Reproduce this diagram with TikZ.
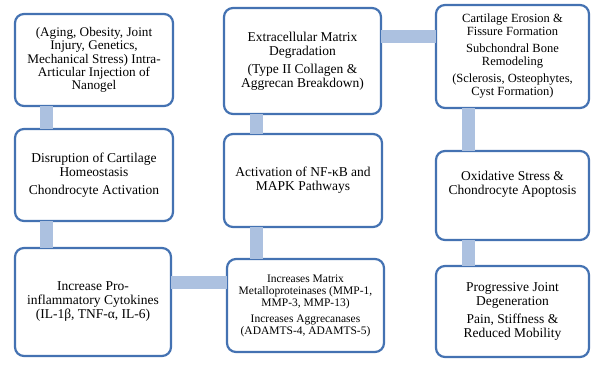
\documentclass[tikz,border=0pt]{standalone}
\usepackage{fontspec}
\setmainfont{Liberation Serif}
\usetikzlibrary{positioning}

\definecolor{boxline}{RGB}{68,114,178}
\definecolor{barfill}{RGB}{172,193,224}

\begin{document}
\begin{tikzpicture}[
    x=1pt, y=-1pt,
    stagebox/.style={draw=boxline, line width=2.2pt, fill=white, rounded corners=9pt,
        align=center, inner sep=2pt, outer sep=0pt,
        font=\fontsize{13.5}{14}\selectfont},
    linkbar/.style={draw=barfill, line width=13pt, line cap=butt}
    ]
    \useasboundingbox (0,0) rectangle (591,365);

    %Bar positions
    \coordinate (c1bar) at (46,0);
    \coordinate (c2bar) at (256,0);
    \coordinate (c3bar) at (468,0);
    \coordinate (lowbar) at (0,282);
    \coordinate (topbar) at (0,36);

    %Boxes
    \node[stagebox, minimum width=158pt, minimum height=92pt, font=\fontsize{13.2}{13.2}\selectfont] (c1b1) at (94,60)
        {(Aging, Obesity, Joint\\Injury, Genetics,\\Mechanical Stress) Intra-\\Articular Injection of\\Nanogel};
    \node[stagebox, minimum width=158pt, minimum height=92pt] (c1b2) at (94,175)
        {Disruption of Cartilage\\Homeostasis\\[4pt]Chondrocyte Activation};
    \node[stagebox, minimum width=156pt, minimum height=108pt] (c1b3) at (93,302)
        {Increase Pro-\\inflammatory Cytokines\\(IL-1β, TNF-α, IL-6)};

    \node[stagebox, minimum width=157pt, minimum height=106pt] (c2b1) at (302.5,61)
        {Extracellular Matrix\\Degradation\\[4pt](Type II Collagen \&\\Aggrecan Breakdown)};
    \node[stagebox, minimum width=158pt, minimum height=93pt] (c2b2) at (303,180.5)
        {Activation of NF-κB and\\MAPK Pathways};
    \node[stagebox, minimum width=157pt, minimum height=93pt, font=\fontsize{11.5}{12}\selectfont] (c2b3) at (305.5,305.5)
        {Increases Matrix\\Metalloproteinases (MMP-1,\\MMP-3, MMP-13)\\[4pt]Increases Aggrecanases\\(ADAMTS-4, ADAMTS-5)};

    \node[stagebox, minimum width=153pt, minimum height=103pt, font=\fontsize{12.5}{13}\selectfont] (c3b1) at (512.5,56.5)
        {Cartilage Erosion \&\\Fissure Formation\\[4pt]Subchondral Bone\\Remodeling\\[4pt](Sclerosis, Osteophytes,\\Cyst Formation)};
    \node[stagebox, minimum width=153pt, minimum height=89pt] (c3b2) at (512.5,195.5)
        {Oxidative Stress \&\\Chondrocyte Apoptosis\\[12pt]\mbox{}};
    \node[stagebox, minimum width=153pt, minimum height=91pt] (c3b3) at (512.5,311.5)
        {Progressive Joint\\Degeneration\\[4pt]Pain, Stiffness \&\\Reduced Mobility};

    %Bars
    \draw[linkbar] (c1bar |- c1b1.south) -- (c1bar |- c1b2.north);
    \draw[linkbar] (c1bar |- c1b2.south) -- (c1bar |- c1b3.north);
    \draw[linkbar] (c1b3.east |- lowbar) -- (c2b3.west |- lowbar);
    \draw[linkbar] (c2bar |- c2b3.north) -- (c2bar |- c2b2.south);
    \draw[linkbar] (c2bar |- c2b2.north) -- (c2bar |- c2b1.south);
    \draw[linkbar] (c2b1.east |- topbar) -- (c3b1.west |- topbar);
    \draw[linkbar] (c3bar |- c3b1.south) -- (c3bar |- c3b2.north);
    \draw[linkbar] (c3bar |- c3b2.south) -- (c3bar |- c3b3.north);
\end{tikzpicture}
\end{document}
